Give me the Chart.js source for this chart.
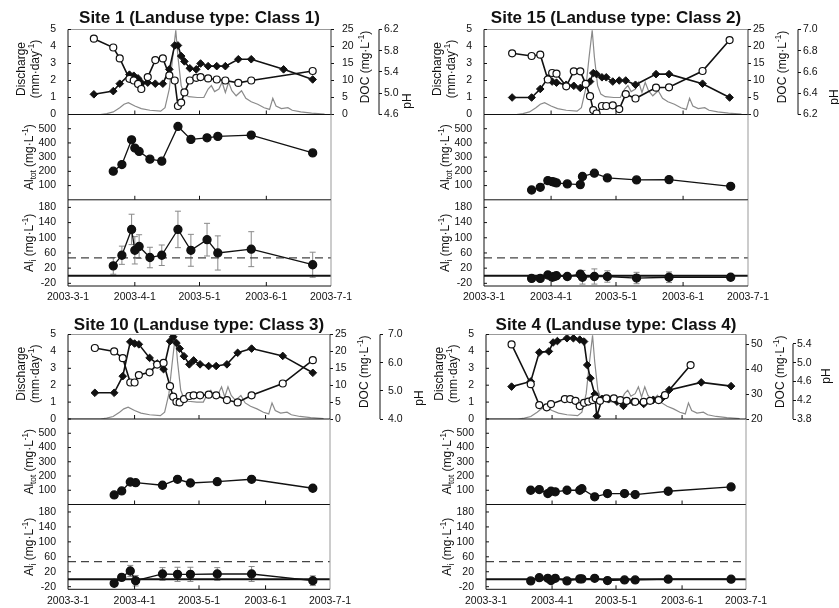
<!DOCTYPE html>
<html>
<head>
<meta charset="utf-8">
<script src="https://cdn.jsdelivr.net/npm/chart.js@4.4.1/dist/chart.umd.min.js"></script>
<style>
  html, body { margin: 0; padding: 0; background: #fff; }
  body { position: relative; width: 839px; height: 608px; overflow: hidden; }
  canvas { position: absolute; }
</style>
</head>
<body>
<script>
const FONT = "'Liberation Sans', Arial, Helvetica, sans-serif";
Chart.defaults.font.family = FONT;
Chart.defaults.color = '#111';

// x axis: days since 2003-3-1
const xTickDays = [0, 31, 61, 92, 122];
const xTickLabels = ['2003-3-1', '2003-4-1', '2003-5-1', '2003-6-1', '2003-7-1'];

// discharge (mm/day) - same hydrograph in every top panel
const qDays = [0, 15, 18, 21, 24, 26, 28, 31, 34, 38, 43, 45, 47, 48.5, 50, 51, 52.5, 54, 56, 60, 63, 65, 66.5, 68, 70, 71.5, 73, 74.5, 76, 78, 80.5, 82.5, 85, 88, 91, 93.5, 95, 96.5, 99, 102, 104, 108, 113, 119];
const qValues = [0, 0, 0.05, 0.15, 0.4, 0.6, 0.7, 0.5, 0.35, 0.25, 0.2, 0.4, 1.5, 3.3, 4.95, 3.4, 1.7, 1.2, 1.05, 1.0, 1.0, 1.5, 1.7, 1.35, 1.5, 1.9, 1.3, 1.9, 1.4, 1.1, 1.4, 0.95, 0.75, 0.6, 0.4, 0.3, 0.95, 0.5, 0.35, 0.4, 0.25, 0.15, 0.08, 0.02];

const qTicks = [0, 1, 2, 3, 4, 5];
const docTicks = [0, 5, 10, 15, 20, 25];
const alTotTicks = [100, 200, 300, 400, 500];
const aliTicks = [-20, 20, 60, 100, 140, 180];
const aliRefLevels = [0, 47]; // solid zero line, dashed threshold

// Site 1
const s1Days = [12, 21, 24, 28.5, 30.5, 32.5, 34, 37, 40.5, 44, 47, 49.5, 51, 52.5, 54, 56.5, 59.5, 61.5, 65, 69, 73, 79, 85, 100, 113.5];
const s1Doc = [22.3, 19.7, 16.5, 10.5, 10, 9, 7.5, 11, 16, 16.5, 11.5, 10, 2.5, 3.5, 6.5, 10, 10.8, 11, 10.6, 10.3, 10, 9.3, 10, null, 12.8];
const s1Ph = [4.98, 5.04, 5.18, 5.35, 5.33, 5.28, 5.2, 5.2, 5.18, 5.18, 5.45, 5.9, 5.9, 5.7, 5.6, 5.47, 5.45, 5.56, 5.51, 5.51, 5.51, 5.64, 5.64, 5.45, 5.26];
const s1PhTicks = [4.6, 5.0, 5.4, 5.8, 6.2];
const s1AlDays = [21, 25, 29.5, 31, 33, 38, 43.5, 51, 57, 64.5, 69.5, 85, 113.5];
const s1AlTot = [201, 248, 422, 364, 340, 286, 272, 516, 425, 436, 446, 455, 330];
const s1AlI = [26, 54, 122, 67, 77, 48, 54, 122, 67, 95, 60, 70, 29];
const s1AlIErr = [22, 24, 40, 36, 31, 27, 27, 48, 42, 43, 45, 46, 33];

// Site 15
const s15Days = [13, 22, 26, 29.5, 31.5, 33.5, 38, 41.5, 44.5, 47, 49, 50.5, 52, 54.5, 56.5, 59.5, 62.5, 65.5, 70, 79.5, 85.5, 101, 113.5];
const s15Doc = [18, 17.2, 17.6, 10.3, 12.2, 12, 8.3, 12.7, 12.7, 9, 5.4, 1.3, 0.3, 2.5, 2.5, 2.7, 1.6, 6, 4.7, 7.9, 8, 12.8, 21.9];
const s15Ph = [6.36, 6.36, 6.44, 6.54, 6.51, 6.5, 6.48, 6.47, 6.45, 6.48, 6.51, 6.59, 6.58, 6.55, 6.55, 6.51, 6.52, 6.52, 6.48, 6.58, 6.58, 6.49, 6.36];
const s15PhTicks = [6.2, 6.4, 6.6, 6.8, 7.0];
const s15AlDays = [22, 26, 29.5, 31.5, 32.5, 33.5, 38.5, 44.5, 45.5, 51, 57, 70.5, 85.5, 114];
const s15AlTot = [69, 88, 135, 128, 124, 119, 112, 107, 164, 187, 154, 140, 142, 95];
const s15AlI = [-7, -7, 2, -4, -2, 0, -2, 4, -4, -2, -2, -6, -4, -4];
const s15AlIErr = [6, 6, 8, 8, 6, 6, 6, 8, 18, 20, 15, 15, 14, 8];

// Site 10
const s10Days = [12.5, 21.5, 25.5, 29, 31, 33, 38, 41.5, 44.5, 47.5, 49, 50.5, 52, 54, 56.5, 58.5, 61.5, 65.5, 69, 74, 79, 85.5, 100, 114];
const s10Doc = [21, 20, 18, 10.8, 10.8, 13, 13.8, 16.1, 16.6, 9.7, 6.6, 5.1, 4.9, 5.9, 6.8, 7, 7, 7.2, 7, 5.6, 4.9, 7, 10.5, 17.4];
const s10Ph = [4.93, 4.93, 5.52, 6.74, 6.68, 6.65, 6.17, 5.97, 5.77, 6.76, 6.92, 6.7, 6.5, 6.23, 5.94, 6.08, 5.94, 5.88, 5.88, 5.94, 6.35, 6.5, 6.24, 5.64];
const s10PhTicks = [4.0, 5.0, 6.0, 7.0];
const s10AlDays = [21.5, 25, 29, 31.5, 44, 51, 57, 69.5, 85.5, 114];
const s10AlTot = [67, 95, 158, 153, 135, 177, 151, 160, 177, 114];
const s10AlI = [-11, 5, 22, -4, 14, 13, 13, 14, 14, -4];
const s10AlIErr = [6, 8, 15, 14, 17, 19, 19, 17, 20, 13];

// Site 4
const s4DocDays = [12, 21, 25, 28.5, 30.5, 37, 39.5, 42, 44, 46, 48, 50, 51.5, 53.5, 56.5, 60, 63, 66, 70, 74, 77, 81, 84, 96];
const s4Doc = [50, 34, 25.6, 24.7, 26, 28, 28, 27.3, 25.2, 26.5, 27, 27.6, 28.3, 27.3, 28.3, 28.3, 27.6, 27.3, 26.9, 26.9, 27.3, 27.6, 29.6, 41.7];
const s4PhDays = [12, 21, 25, 29.5, 31.5, 33.5, 38, 41, 44, 46, 47.5, 49, 51, 52, 54.5, 57.5, 61.5, 64.5, 69, 74, 78.5, 82.5, 86, 101, 115];
const s4Ph = [4.49, 4.6, 5.22, 5.24, 5.43, 5.46, 5.52, 5.52, 5.49, 5.45, 4.95, 4.67, 4.33, 3.86, 4.23, 4.22, 4.17, 4.08, 4.17, 4.12, 4.21, 4.24, 4.42, 4.58, 4.5];
const s4DocTicks = [20, 30, 40, 50];
const s4PhTicks = [3.8, 4.2, 4.6, 5.0, 5.4];
const s4AlDays = [21, 25, 29, 30.5, 32.5, 38, 44, 45, 51, 57, 65, 70, 85.5, 115];
const s4AlTot = [100, 105, 77, 93, 89, 100, 100, 111, 54, 77, 77, 70, 93, 123];
const s4AlI = [-4.5, 4, 2.5, -3.6, 2.5, -4.5, 1, 1, 2.5, -3.6, -2, -2, 0, 0];
const s4AlIErr = [3, 3, 3, 3, 3, 3, 3, 3, 3, 3, 3, 3, 3, 3];

// page layout (pixels)
const rows = [
  { titleY: 18.5, top: 29.5, mid: 114.5, bot: 199.8, end: 286, xPad: 4.5 },
  { titleY: 325, top: 334.5, mid: 419, bot: 504.5, end: 589.3, xPad: 6 }
];

const sites = [
  { title: 'Site 1 (Landuse type: Class 1)', row: 0, L: 0, W: 420, plotL: 68, plotR: 331, docW: 48, docPad: 8, phPad: 2, phTitleX: 408, phTitleY: 101,
    docDays: s1Days, doc: s1Doc, phDays: s1Days, ph: s1Ph, docRange: [0, 25], docTicks: docTicks, phRange: [4.6, 6.2], phTicks: s1PhTicks,
    alDays: s1AlDays, alTot: s1AlTot, alI: s1AlI, alIErr: s1AlIErr },
  { title: 'Site 15 (Landuse type: Class 2)', row: 0, L: 420, W: 419, plotL: 484, plotR: 748, docW: 50, docPad: 2, phPad: 2, phTitleX: 835, phTitleY: 97,
    docDays: s15Days, doc: s15Doc, phDays: s15Days, ph: s15Ph, docRange: [0, 25], docTicks: docTicks, phRange: [6.2, 7.0], phTicks: s15PhTicks,
    alDays: s15AlDays, alTot: s15AlTot, alI: s15AlI, alIErr: s15AlIErr },
  { title: 'Site 10 (Landuse type: Class 3)', row: 1, L: 0, W: 428, plotL: 68, plotR: 330, docW: 50, docPad: 2, phPad: 5, phTitleX: 420, phTitleY: 398,
    docDays: s10Days, doc: s10Doc, phDays: s10Days, ph: s10Ph, docRange: [0, 25], docTicks: docTicks, phRange: [4.0, 7.0], phTicks: s10PhTicks,
    alDays: s10AlDays, alTot: s10AlTot, alI: s10AlI, alIErr: s10AlIErr },
  { title: 'Site 4 (Landuse type: Class 4)', row: 1, L: 420, W: 419, plotL: 486, plotR: 746, docW: 47, docPad: 2, phPad: 1, phTitleX: 827, phTitleY: 376,
    docDays: s4DocDays, doc: s4Doc, phDays: s4PhDays, ph: s4Ph, docRange: [20, 54], docTicks: s4DocTicks, phRange: [3.8, 5.6], phTicks: s4PhTicks,
    alDays: s4AlDays, alTot: s4AlTot, alI: s4AlI, alIErr: s4AlIErr }
];

function pts(xs, ys) { return xs.map((x, i) => ({ x: x, y: ys[i] })); }
function tickList(values) { return s => { s.ticks = values.map(v => ({ value: v })); }; }
// fixed axis sizes, and no extra label padding pushed into the layout
function fixWidth(w) { return s => { s.width = w; s.paddingTop = 0; s.paddingBottom = 0; }; }
function fixHeight(h) { return s => { s.height = h; s.paddingLeft = 0; s.paddingRight = 0; }; }

function richText(ctx, segs, cx, cy, size, rotated) {
  ctx.save();
  ctx.translate(cx, cy);
  if (rotated) ctx.rotate(-Math.PI / 2);
  const small = size * 0.68;
  const fontOf = s => (s.k ? small : size) + 'px ' + FONT;
  let w = 0;
  segs.forEach(s => { ctx.font = fontOf(s); w += ctx.measureText(s.t).width; });
  let x = -w / 2;
  ctx.textAlign = 'left';
  ctx.textBaseline = 'middle';
  ctx.fillStyle = '#111';
  segs.forEach(s => {
    ctx.font = fontOf(s);
    const dy = s.k === 'sub' ? size * 0.3 : s.k === 'sup' ? -size * 0.35 : 0;
    ctx.fillText(s.t, x, dy);
    x += ctx.measureText(s.t).width;
  });
  ctx.restore();
}

const mgL = [{ t: ' (mg·L' }, { t: '-1', k: 'sup' }, { t: ')' }];

function decor(site, kind, T) {
  const line = (ctx, x1, y1, x2, y2, c, w) => {
    ctx.strokeStyle = c; ctx.lineWidth = w || 1;
    ctx.beginPath(); ctx.moveTo(x1, y1); ctx.lineTo(x2, y2); ctx.stroke();
  };
  return {
    id: 'decor',
    beforeDatasetsDraw(chart) {
      if (kind !== 'bot') return;
      const ctx = chart.ctx, xs = chart.scales.x, ys = chart.scales.y;
      ctx.save();
      site.alDays.forEach((d, i) => {
        const px = xs.getPixelForValue(d);
        const lo = ys.getPixelForValue(site.alI[i] - site.alIErr[i]);
        const hi = ys.getPixelForValue(site.alI[i] + site.alIErr[i]);
        line(ctx, px, lo, px, hi, '#888', 1);
        line(ctx, px - 3, lo, px + 3, lo, '#888', 1);
        line(ctx, px - 3, hi, px + 3, hi, '#888', 1);
      });
      ctx.restore();
    },
    afterDraw(chart) {
      const ctx = chart.ctx, a = chart.chartArea;
      const xs = chart.scales.x, ys = chart.scales.y;
      ctx.save();
      if (kind === 'top') line(ctx, a.left, a.top, a.right, a.top, '#999');
      line(ctx, a.left, a.top, a.left, a.bottom, '#111');
      line(ctx, a.right, a.top, a.right, a.bottom, kind === 'top' ? '#333' : '#999');
      line(ctx, a.left, a.bottom, a.right, a.bottom, '#111');
      xTickDays.slice(1, -1).forEach(d => {
        const px = xs.getPixelForValue(d);
        line(ctx, px, a.bottom, px, a.bottom - 4, '#111');
      });
      ys.ticks.forEach(t => {
        const py = ys.getPixelForValue(t.value);
        line(ctx, a.left, py, a.left + 3, py, '#111');
      });
      const midY = (a.top + a.bottom) / 2;
      if (kind === 'top') {
        const ph = chart.scales.ph, tk = ph.ticks;
        line(ctx, ph.left, ph.getPixelForValue(tk[0].value), ph.left, ph.getPixelForValue(tk[tk.length - 1].value), '#111');
        ctx.font = 'bold 17px ' + FONT;
        ctx.fillStyle = '#111';
        ctx.textAlign = 'center';
        ctx.textBaseline = 'middle';
        ctx.fillText(site.title, (a.left + a.right) / 2, rows[site.row].titleY - T);
        richText(ctx, [{ t: 'Discharge' }], a.left - 46, midY - 3, 12, true);
        richText(ctx, [{ t: '(mm·day' }, { t: '-1', k: 'sup' }, { t: ')' }], a.left - 32, midY - 3, 12, true);
        richText(ctx, [{ t: 'DOC' }].concat(mgL), a.right + 35, midY - 5, 12, true);
        richText(ctx, [{ t: 'pH' }], site.phTitleX - site.L, site.phTitleY - T, 12, true);
      } else if (kind === 'mid') {
        richText(ctx, [{ t: 'Al' }, { t: 'tot', k: 'sub' }].concat(mgL), a.left - 38, midY, 12, true);
      } else {
        richText(ctx, [{ t: 'Al' }, { t: 'i', k: 'sub' }].concat(mgL), a.left - 38, midY, 12, true);
      }
      ctx.restore();
    }
  };
}

function panel(site, kind) {
  const r = rows[site.row];
  const P = kind === 'top' ? r.top : kind === 'mid' ? r.mid : r.bot;
  const B = kind === 'top' ? r.mid : kind === 'mid' ? r.bot : r.end;
  const T = Math.floor(P) - (kind === 'top' ? 36 : 8);
  const xAxisH = kind === 'bot' ? 22 : 0;
  const H = Math.ceil(B - T) + 8 + xAxisH;
  const plotW = site.plotR - site.L;

  const c = document.createElement('canvas');
  c.width = site.W; c.height = H;
  c.style.left = site.L + 'px'; c.style.top = T + 'px';
  c.style.width = site.W + 'px'; c.style.height = H + 'px';
  document.body.appendChild(c);

  const tickFont = { size: 10.5 };
  const leftAxis = (min, max, ticks, fmt) => ({
    type: 'linear', position: 'left', min: min, max: max,
    afterBuildTicks: tickList(ticks),
    afterFit: fixWidth(site.plotL - site.L),
    border: { display: false },
    grid: { display: false, drawTicks: false },
    ticks: { padding: 12, font: tickFont, color: '#111', autoSkip: false, callback: fmt || (v => String(v)) }
  });

  const scales = {
    x: {
      type: 'linear', min: xTickDays[0], max: xTickDays[xTickDays.length - 1],
      display: kind === 'bot',
      afterBuildTicks: tickList(xTickDays),
      afterFit: fixHeight(xAxisH),
      border: { display: false },
      grid: { display: false, drawTicks: false },
      ticks: { padding: r.xPad, font: tickFont, color: '#111', maxRotation: 0, autoSkip: false,
        callback: v => xTickLabels[xTickDays.indexOf(v)] }
    }
  };

  let datasets;
  if (kind === 'top') {
    scales.y = leftAxis(0, 5, qTicks);
    scales.doc = {
      type: 'linear', position: 'right', min: site.docRange[0], max: site.docRange[1],
      afterBuildTicks: tickList(site.docTicks),
      afterFit: fixWidth(site.docW),
      border: { display: false },
      grid: { display: true, drawOnChartArea: false, drawTicks: true, tickLength: 3, color: '#111' },
      ticks: { padding: site.docPad, font: tickFont, color: '#111', autoSkip: false }
    };
    scales.ph = {
      type: 'linear', position: 'right', min: site.phRange[0], max: site.phRange[1],
      afterBuildTicks: tickList(site.phTicks),
      afterFit: fixWidth(site.W - plotW - site.docW),
      border: { display: false },
      grid: { display: true, drawOnChartArea: false, drawTicks: true, tickLength: 3, color: '#111' },
      ticks: { padding: site.phPad, font: tickFont, color: '#111', autoSkip: false, callback: v => v.toFixed(1) }
    };
    datasets = [
      { yAxisID: 'doc', data: pts(site.docDays, site.doc), spanGaps: true, borderColor: '#111', borderWidth: 1.6,
        pointStyle: 'circle', pointRadius: 3.5, pointBackgroundColor: '#fff', pointBorderColor: '#111', pointBorderWidth: 1.2 },
      { yAxisID: 'ph', data: pts(site.phDays, site.ph), spanGaps: true, borderColor: '#111', borderWidth: 1.6,
        pointStyle: 'rectRot', pointRadius: 3.8, pointBackgroundColor: '#111', pointBorderColor: '#111', pointBorderWidth: 1 },
      { yAxisID: 'y', data: pts(qDays, qValues), borderColor: '#8a8a8a', borderWidth: 1.2, pointRadius: 0 }
    ];
  } else if (kind === 'mid') {
    scales.y = leftAxis(0, 600, alTotTicks);
    datasets = [
      { yAxisID: 'y', data: pts(site.alDays, site.alTot), borderColor: '#111', borderWidth: 1.3,
        pointStyle: 'circle', pointRadius: 4, pointBackgroundColor: '#111', pointBorderColor: '#111' }
    ];
  } else {
    scales.y = leftAxis(-27, 200, aliTicks);
    const span = [xTickDays[0], xTickDays[xTickDays.length - 1]];
    datasets = [
      { yAxisID: 'y', data: pts(site.alDays, site.alI), borderColor: '#111', borderWidth: 1.3,
        pointStyle: 'circle', pointRadius: 4, pointBackgroundColor: '#111', pointBorderColor: '#111' },
      { yAxisID: 'y', data: pts(span, [aliRefLevels[0], aliRefLevels[0]]), borderColor: '#111', borderWidth: 2, pointRadius: 0 },
      { yAxisID: 'y', data: pts(span, [aliRefLevels[1], aliRefLevels[1]]), borderColor: '#444', borderWidth: 1.3,
        borderDash: [8, 5], pointRadius: 0 }
    ];
  }

  new Chart(c.getContext('2d'), {
    type: 'line',
    data: { datasets: datasets },
    options: {
      responsive: false,
      animation: false,
      events: [],
      devicePixelRatio: 1,
      layout: { padding: { top: P - T, bottom: H - (B - T) - xAxisH, left: 0, right: kind === 'top' ? 0 : site.W - plotW } },
      elements: { line: { tension: 0 } },
      plugins: { legend: { display: false }, tooltip: { enabled: false } },
      scales: scales
    },
    plugins: [decor(site, kind, T)]
  });
}

sites.forEach(site => {
  panel(site, 'top');
  panel(site, 'mid');
  panel(site, 'bot');
});
</script>
</body>
</html>
